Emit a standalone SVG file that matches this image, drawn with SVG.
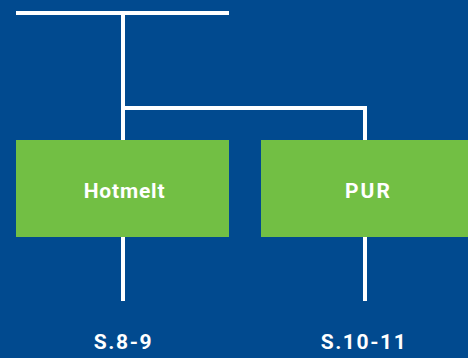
<svg xmlns="http://www.w3.org/2000/svg" width="468" height="358" viewBox="0 0 468 358">
<style>
.ln{stroke:#fff;stroke-width:4;fill:none}
.box{fill:#72bf44}
.t{font-family:Roboto,"Liberation Sans",sans-serif;font-weight:bold;font-size:21px;fill:#fff;text-anchor:middle;letter-spacing:0.8px}
.b{letter-spacing:1.6px}
</style>
<rect width="468" height="358" fill="#014a8f"/>
<g id="connectors">
<path class="ln" d="M16 13H229M123 13V140M123 108H365V140M123 237V301M365 237V301"/>
</g>
<g id="hotmelt"><rect class="box" x="16" y="140" width="213" height="97"/><text class="t" x="124.5" y="197.5">Hotmelt</text></g>
<g id="pur"><rect class="box" x="261" y="140" width="207" height="97"/><text class="t" x="368.5" y="197.5" style="letter-spacing:2px">PUR</text></g>
<g id="s89"><text class="t b" x="123.5" y="348.5">S.8-9</text></g>
<g id="s1011"><text class="t b" x="364" y="348.5">S.10-11</text></g>
</svg>
